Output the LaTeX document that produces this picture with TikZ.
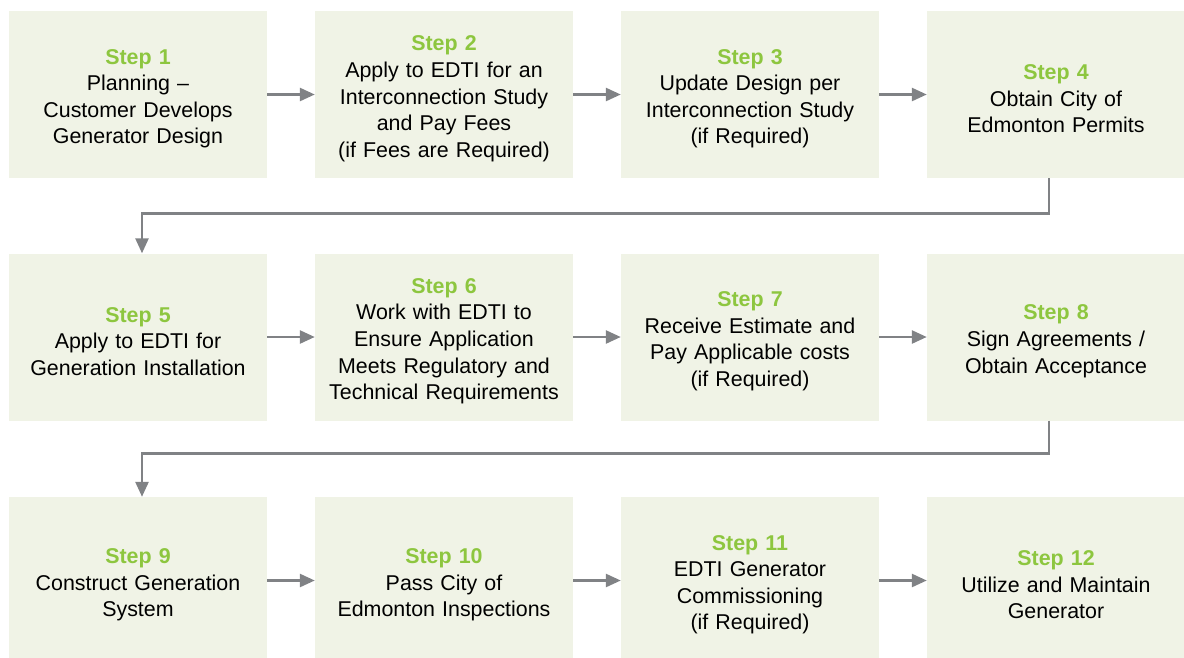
\documentclass[tikz,border=0pt]{standalone}
\usepackage{fontspec}
\setmainfont{Liberation Sans}
\definecolor{EdtiGreen}{RGB}{141, 198, 63}
\definecolor{EdtiBox}{RGB}{240, 243, 230}
\definecolor{EdtiGray}{RGB}{128, 130, 133}
\usepackage{tikz}
\usetikzlibrary{arrows.meta, positioning, calc}
\newcommand{\stephead}[1]{\rule{0pt}{23.5pt}{\bfseries\color{EdtiGreen}Step #1}}

\begin{document}
\begin{tikzpicture}[x=1pt, y=1pt,
    stepbox/.style={fill=EdtiBox, minimum width=258pt, minimum height=167pt, inner sep=0pt,
      text width=254pt, align=center, font=\fontsize{21.4pt}{26.6pt}\selectfont},
    flow/.style={draw=EdtiGray, line width=2.6pt, -{Triangle[length=15pt, width=13pt]}}]
    \useasboundingbox (0,0) rectangle (1184,-657);
    % row 1
    \node[stepbox] (s1) at (138,-94.5) {\stephead{1}\\Planning --\\Customer Develops\\Generator Design};
    \node[stepbox] (s2) at (444,-94.5) {\stephead{2}\\Apply to EDTI for an\\Interconnection Study\\and Pay Fees\\(if Fees are Required)};
    \node[stepbox] (s3) at (750,-94.5) {\stephead{3}\\Update Design per\\Interconnection Study\\(if Required)};
    \node[stepbox] (s4) at (1056,-94.5) {\stephead{4}\\Obtain City of\\Edmonton Permits};
    % row 2
    \node[stepbox] (s5) at (138,-337) {\stephead{5}\\Apply to EDTI for\\Generation Installation};
    \node[stepbox] (s6) at (444,-337) {\stephead{6}\\Work with EDTI to\\Ensure Application\\Meets Regulatory and\\Technical Requirements};
    \node[stepbox] (s7) at (750,-337) {\stephead{7}\\Receive Estimate and\\Pay Applicable costs\\(if Required)};
    \node[stepbox] (s8) at (1056,-337) {\stephead{8}\\Sign Agreements /\\Obtain Acceptance};
    % row 3
    \node[stepbox] (s9) at (138,-580.5) {\stephead{9}\\Construct Generation\\System};
    \node[stepbox] (s10) at (444,-580.5) {\stephead{10}\\Pass City of\\Edmonton Inspections};
    \node[stepbox] (s11) at (750,-580.5) {\stephead{11}\\EDTI Generator\\Commissioning\\(if Required)};
    \node[stepbox] (s12) at (1056,-580.5) {\stephead{12}\\Utilize and Maintain\\Generator};

    \foreach \a/\b in {s1/s2, s2/s3, s3/s4, s5/s6, s6/s7, s7/s8, s9/s10, s10/s11, s11/s12}
      \draw[flow] (\a) -- (\b);
    \draw[flow] ([xshift=-7pt]s4.south) -- ++(0,-35) -| ([xshift=4pt]s5.north);
    \draw[flow] ([xshift=-7pt]s8.south) -- ++(0,-33) -| ([xshift=4pt]s9.north);
  \end{tikzpicture}
\end{document}
